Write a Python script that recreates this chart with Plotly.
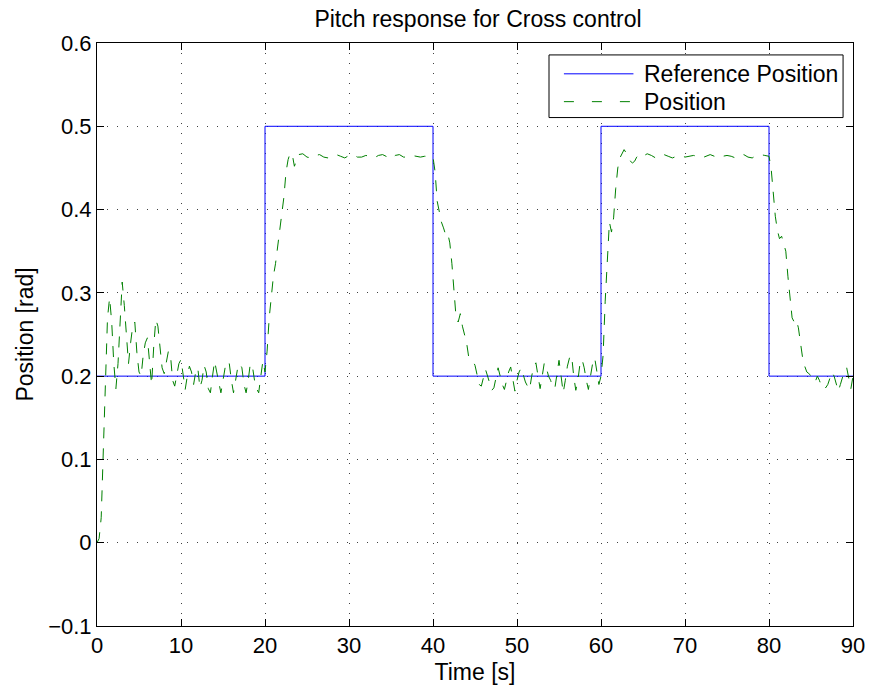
import numpy as np
import plotly.graph_objects as go

# Reference (commanded) pitch: square wave between 0.2 and 0.5 rad
ref_t = [0, 20, 20, 40, 40, 60, 60, 80, 80, 90]
ref_y = [0.2, 0.2, 0.5, 0.5, 0.2, 0.2, 0.5, 0.5, 0.2, 0.2]

# Measured pitch, 0 - 20 s (0.25 s samples)
pos_start_a = [
    0.0, 0.005, 0.03, 0.11, 0.20, 0.27, 0.294, 0.265, 0.215, 0.185,
    0.215, 0.26, 0.313, 0.285, 0.25, 0.215, 0.24, 0.26, 0.265, 0.228,
    0.205, 0.2, 0.225, 0.24, 0.246, 0.22, 0.19, 0.235, 0.268, 0.26,
    0.23, 0.21, 0.203, 0.215, 0.23, 0.225, 0.195, 0.188, 0.2, 0.215,
    0.22, 0.2, 0.184, 0.2, 0.212, 0.205, 0.19, 0.205, 0.21, 0.186,
    0.195, 0.213, 0.205, 0.185, 0.18, 0.2, 0.218, 0.205, 0.19, 0.18,
    0.195, 0.21, 0.218, 0.215, 0.195, 0.18, 0.195, 0.21, 0.215, 0.21,
    0.19, 0.18, 0.195, 0.215, 0.212, 0.195, 0.185, 0.18, 0.2, 0.218,
]
# 20 - 24 s rise (0.25 s samples)
pos_rise_a = [
    0.205, 0.23, 0.27, 0.30, 0.32, 0.335, 0.355, 0.375, 0.395, 0.415,
    0.445, 0.46, 0.468, 0.466, 0.452, 0.458,
]
# 24 - 40 s plateau (0.5 s samples)
pos_high_a = [
    0.466, 0.467, 0.463, 0.462, 0.465, 0.466, 0.463, 0.462, 0.464, 0.466,
    0.464, 0.462, 0.465, 0.466, 0.463, 0.463, 0.465, 0.464, 0.462, 0.465,
    0.466, 0.463, 0.461, 0.465, 0.466, 0.463, 0.463, 0.465, 0.464, 0.463,
    0.464, 0.464,
]
# 40 - 60 s fall and settle (0.25 s samples)
pos_low_b = [
    0.463, 0.445, 0.41, 0.395, 0.385, 0.378, 0.37, 0.372, 0.36, 0.335,
    0.30, 0.27, 0.265, 0.275, 0.26, 0.25, 0.24, 0.223, 0.22, 0.218,
    0.213, 0.2, 0.19, 0.188, 0.2, 0.208, 0.2, 0.19, 0.183, 0.186,
    0.2, 0.21, 0.2, 0.19, 0.184, 0.195, 0.205, 0.211, 0.195, 0.182,
    0.195, 0.205, 0.21, 0.2, 0.193, 0.188, 0.184, 0.2, 0.212, 0.216,
    0.2, 0.185, 0.2, 0.216, 0.21, 0.2, 0.195, 0.187, 0.185, 0.205,
    0.219, 0.2, 0.18, 0.195, 0.212, 0.222, 0.225, 0.2, 0.183, 0.195,
    0.215, 0.22, 0.21, 0.195, 0.184, 0.2, 0.215, 0.222, 0.205, 0.19,
]
# 60 - 64.5 s rise (0.25 s samples)
pos_rise_b = [
    0.2, 0.225, 0.29, 0.345, 0.385, 0.373, 0.39, 0.425, 0.45, 0.462,
    0.468, 0.472, 0.468, 0.462, 0.458, 0.456, 0.458, 0.463,
]
# 64.5 - 80 s plateau (0.5 s samples)
pos_high_b = [
    0.466, 0.464, 0.467, 0.465, 0.462, 0.463, 0.466, 0.464, 0.462, 0.464,
    0.465, 0.463, 0.464, 0.465, 0.464, 0.462, 0.464, 0.466, 0.464, 0.462,
    0.464, 0.465, 0.464, 0.462, 0.465, 0.466, 0.463, 0.462, 0.465, 0.466,
    0.465,
]
# 80 - 90 s fall and settle (0.25 s samples)
pos_low_c = [
    0.464, 0.45, 0.415, 0.392, 0.375, 0.365, 0.368, 0.36, 0.35, 0.32,
    0.29, 0.27, 0.265, 0.268, 0.258, 0.24, 0.222, 0.212, 0.205, 0.203,
    0.2, 0.198, 0.193, 0.2, 0.195, 0.188, 0.19, 0.186, 0.19, 0.198,
    0.205, 0.2, 0.19, 0.182, 0.19, 0.2, 0.207, 0.21, 0.195, 0.185,
    0.2,
]

# sampling grid for each recorded segment: (start time, step)
segments = [
    (0.0, 0.25, pos_start_a),
    (20.0, 0.25, pos_rise_a),
    (24.0, 0.5, pos_high_a),
    (40.0, 0.25, pos_low_b),
    (60.0, 0.25, pos_rise_b),
    (64.5, 0.5, pos_high_b),
    (80.0, 0.25, pos_low_c),
]
pos_t, pos_y = [], []
for t0, dt, vals in segments:
    pos_t.extend(t0 + dt * np.arange(len(vals)))
    pos_y.extend(vals)

x_ticks = [0, 10, 20, 30, 40, 50, 60, 70, 80, 90]
y_ticks = [-0.1, 0, 0.1, 0.2, 0.3, 0.4, 0.5, 0.6]

FONT = "Liberation Sans, Arial, Helvetica, sans-serif"
BLUE = "#0000ff"
GREEN = "#008000"
DATA_DASH = "11px,10px"

fig = go.Figure()
fig.add_trace(go.Scatter(x=ref_t, y=ref_y, mode="lines", name="Reference Position",
                         line=dict(color=BLUE, width=1), showlegend=False))
fig.add_trace(go.Scatter(x=pos_t, y=pos_y, mode="lines", name="Position",
                         line=dict(color=GREEN, width=1, dash=DATA_DASH),
                         showlegend=False))

axis_common = dict(
    showline=True, linecolor="black", linewidth=1, mirror="ticks",
    ticks="inside", ticklen=7, tickcolor="black", tickwidth=1,
    showgrid=True, gridcolor="#404040", gridwidth=1, griddash="1px,9px",
    zeroline=False, tickfont=dict(family=FONT, size=22, color="black"),
)
fig.update_xaxes(range=[0, 90], tickvals=x_ticks, **axis_common,
                 title=dict(text="Time [s]", font=dict(family=FONT, size=23, color="black"),
                            standoff=6))
fig.update_yaxes(range=[-0.1, 0.6], tickvals=y_ticks, **axis_common,
                 title=dict(text="Position [rad]", font=dict(family=FONT, size=23, color="black"),
                            standoff=8))

# legend box drawn in paper coordinates
def px_x(p):
    return (p - 97) / 761.0

def px_y(p):
    return (629.5 - p) / 586.5

fig.add_shape(type="rect", xref="paper", yref="paper",
              x0=px_x(552), x1=px_x(848), y0=px_y(118), y1=px_y(55),
              line=dict(color="black", width=1), fillcolor="white", layer="above")
legend_rows = [("Reference Position", BLUE, "solid", 74), ("Position", GREEN, "10px,18px", 102)]
for label, color, dash, yy in legend_rows:
    fig.add_shape(type="line", xref="paper", yref="paper",
                  x0=px_x(567), x1=px_x(637), y0=px_y(yy), y1=px_y(yy),
                  line=dict(color=color, width=1, dash=dash), layer="above")
    fig.add_annotation(xref="paper", yref="paper", x=px_x(646), y=px_y(yy),
                       xanchor="left", yanchor="middle", text=label, showarrow=False,
                       font=dict(family=FONT, size=23, color="black"))

fig.update_layout(
    width=877, height=693,
    margin=dict(l=97, r=19, t=43, b=64),
    paper_bgcolor="white", plot_bgcolor="white",
    title=dict(text="Pitch response for Cross control", x=478 / 877,
               xanchor="center", yref="container", y=1 - 19 / 693, yanchor="middle",
               font=dict(family=FONT, size=23, color="black")),
    font=dict(family=FONT, color="black"),
)

fig.write_html("out.html")
